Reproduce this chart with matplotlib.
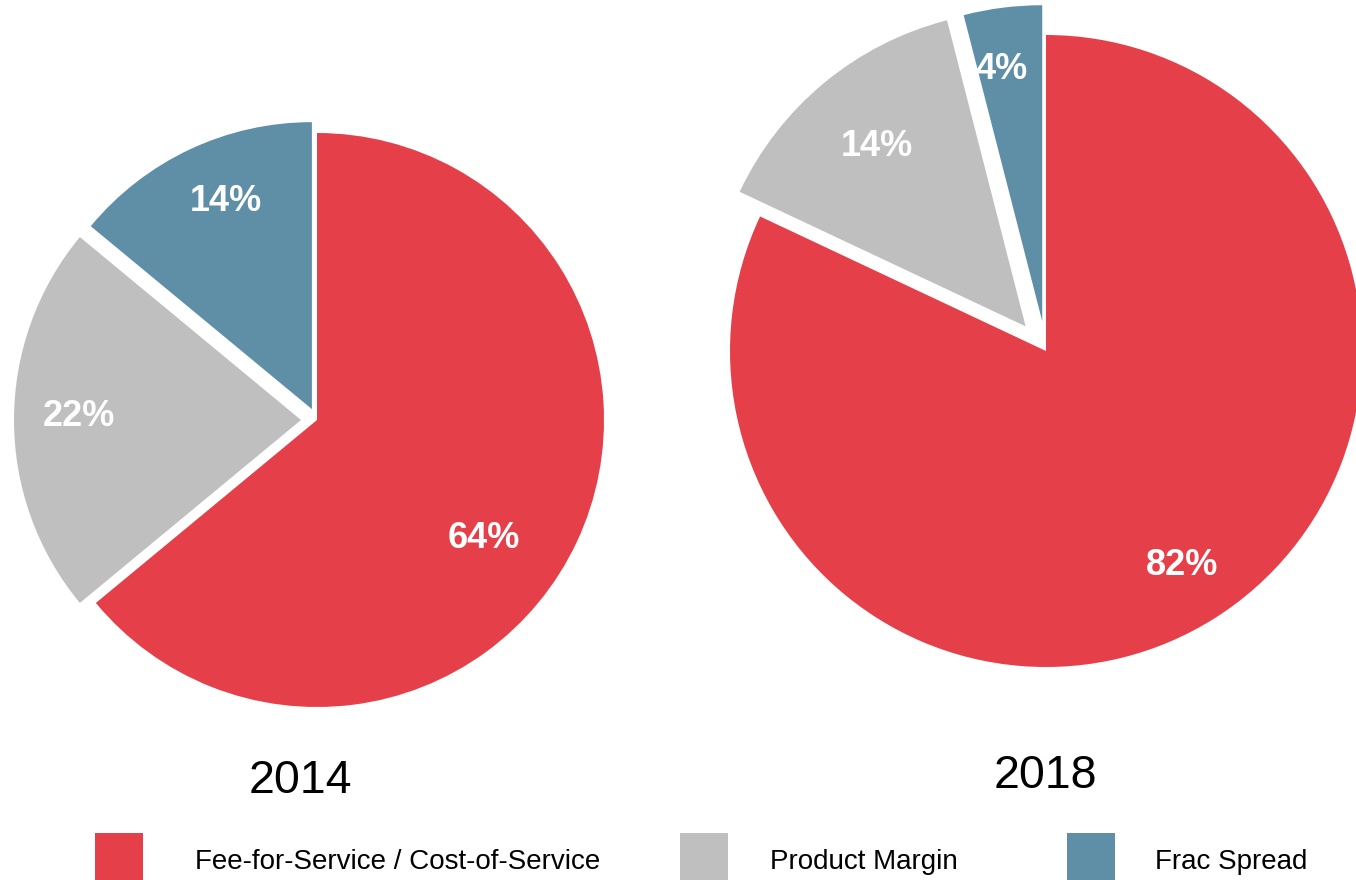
import matplotlib
matplotlib.use('Agg')
import matplotlib.pyplot as plt
from matplotlib.patches import Rectangle

plt.rcParams['font.family'] = ['Liberation Sans', 'DejaVu Sans']

# data
categories = ['Fee-for-Service / Cost-of-Service', 'Product Margin', 'Frac Spread']
years = ['2014', '2018']
share_2014 = [64, 22, 14]
share_2018 = [82, 14, 4]

colors = ['#E5404A', '#BFBFBF', '#5F8FA6']

W, H = 1356, 880
fig = plt.figure(figsize=(W / 100, H / 100), dpi=100)
ax = fig.add_axes([0, 0, 1, 1])

# layout in pixels (y measured from top)
pies = [
    dict(vals=share_2014, center=(317, 420), radius=287, explode=[0, 16, 12],
         labels=[(484, 538), (79, 416), (226, 201)], year_xy=(300, 781)),
    dict(vals=share_2018, center=(1046, 351), radius=316, explode=[0, 32, 30],
         labels=[(1182, 565), (877, 146), (1002, 69)], year_xy=(1045, 776)),
]

for p, yr in zip(pies, years):
    cx, cy = p['center']
    ax.pie(p['vals'], colors=colors, startangle=90, counterclock=False,
           center=(cx, H - cy), radius=p['radius'], explode=p['explode'],
           wedgeprops=dict(linewidth=0))
    for v, (tx, ty) in zip(p['vals'], p['labels']):
        ax.text(tx, H - ty, '{}%'.format(v), color='white', fontsize=26,
                fontweight='bold', ha='center', va='center')
    yx, yy = p['year_xy']
    ax.text(yx, H - yy, yr, fontsize=33.5, ha='center', va='center', color='black')

# legend
patch_x = [95, 680, 1067]
text_x = [195, 770, 1155]
for c, lab, px, tx in zip(colors, categories, patch_x, text_x):
    ax.add_patch(Rectangle((px, H - 881), 48, 48, facecolor=c, edgecolor='none',
                           clip_on=False))
    ax.text(tx, H - 862, lab, fontsize=20, ha='left', va='center', color='black')

ax.set_xlim(0, W)
ax.set_ylim(0, H)
ax.set_aspect('equal')
ax.axis('off')

plt.savefig('out.png', dpi=100)
